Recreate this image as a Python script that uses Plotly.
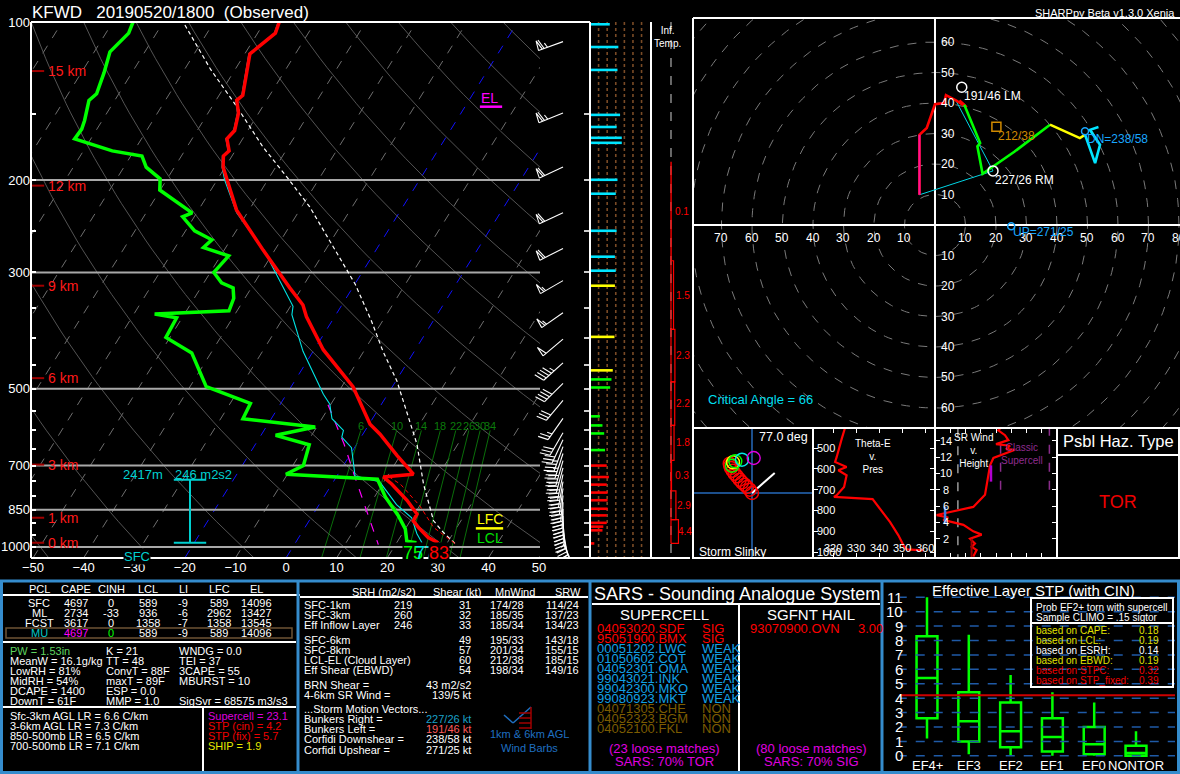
import numpy as np
import plotly.graph_objects as go

W, H = 1180, 774
FONT = "Liberation Sans, Arial, sans-serif"


def fx(x):
    return x / W


def fy(y):
    return 1.0 - y / H


# ============================ DATA ============================
station_title = "KFWD\u00a0\u00a0\u00a020190520/1800\u00a0\u00a0(Observed)"
program_name = "SHARPpy Beta v1.3.0 Xenia"

# --- sounding profiles (hPa, deg C) ---
temp_p = [982, 960, 918, 892, 866, 816, 759, 736, 727, 670, 610, 584, 495, 421, 364, 346, 321, 272,
          228, 200, 189, 180, 176, 167, 161, 149, 141, 138, 115, 105, 100]
temp_c = [28.2, 25.6, 22.4, 20.6, 20.5, 16.9, 11.8, 9.3, 14.9, 9.4, 3.4, 0.2, -7.8, -18.2, -25.6, -27.7,
          -32.4, -42.3, -52.5, -58.1, -60.4, -61.7, -61.2, -63.1, -62.6, -64.0, -65.9, -65.3, -69.0, -66.5, -67.1]
dwpt_p = [982, 975, 924, 872, 804, 743, 727, 700, 639, 613, 591, 570, 533, 504, 495, 427, 399, 366, 360,
          355, 336, 321, 314, 300, 279, 269, 260, 250, 235, 231, 209, 199, 189, 180, 176, 167, 160, 154,
          141, 137, 125, 114, 105, 100]
dwpt_c = [23.9, 21.8, 20.0, 17.0, 12.2, 8.4, -10.3, -7.9, -9.3, -17.1, -10.3, -25.6, -26.0, -33.9, -36.8,
          -43.8, -50.8, -51.1, -55.9, -41.6, -42.2, -43.6, -46.5, -49.3, -48.4, -54.4, -53.7, -58.2, -62.3,
          -60.9, -70.1, -71.4, -75.6, -77.8, -84.3, -93.2, -93.0, -93.5, -95.1, -94.4, -95.5, -96.9, -95.5, -96.0]
wetb_p = [982, 944, 880, 831, 751, 733, 647, 618, 600, 570, 535, 512, 424, 361, 348, 316, 275, 231, 200,
          189, 180, 176, 167, 161, 149, 141, 138, 115, 105, 100]
wetb_c = [25.0, 22.9, 19.9, 15.3, 9.1, 3.6, -0.6, -3.8, -4.3, -8.0, -10.2, -12.7, -22.0, -28.7, -29.5, -34.4,
          -41.6, -52.1, -58.5, -60.6, -61.9, -61.4, -63.3, -62.8, -64.2, -66.1, -65.5, -69.2, -66.7, -67.3]
vtmp_p = [985, 918, 836, 760, 736]
vtmp_c = [31.6, 25.4, 20.1, 13.6, 10.5]
parcel_p = [985, 939, 892, 759, 637, 483, 424, 372, 316, 225, 197, 173, 145, 123, 100]
parcel_c = [31.6, 28.0, 24.6, 18.1, 11.9, 0.2, -6.2, -12.1, -19.9, -38.4, -46.7, -55.0, -65.1, -74.9, -86.1]
dcape_p = [536, 637, 738, 990]
dcape_c = [-10.5, -2.5, 3.8, 16.6]

height_km = [0, 1, 3, 6, 9, 12, 15]
height_p = [982, 880, 697, 477, 318, 205, 124]
isobar_p = [200, 300, 500, 700, 850, 1000]
press_labels = [100, 200, 300, 500, 700, 850, 1000]
mixr_gkg = [6, 10, 14, 18, 22, 26, 30, 34]
el_p, lfc_p = 145, 922
eff_inflow_p = [982, 745]
eff_inflow_txt = ["2417m", "246 m2s2"]
sfc_values = ["75", "77", "83"]

# wind barbs (hPa, deg, kt)
barb_p = [984, 955, 927, 899, 873, 847, 822, 798, 774, 751, 728, 707, 685, 664, 644, 625, 606, 569,
          526, 488, 446, 402, 358, 311, 270, 231, 189, 149, 109]
barb_dir = [155, 165, 170, 175, 178, 180, 182, 185, 188, 190, 192, 195, 196, 198, 200, 205, 210, 215,
            220, 225, 228, 230, 235, 240, 243, 245, 245, 248, 250]
barb_spd = [12, 28, 33, 38, 40, 40, 41, 41, 42, 42, 41, 40, 39, 37, 35, 32, 28, 25, 28, 38, 45, 50,
            55, 57, 58, 60, 62, 66, 64]

# wind speed column (hPa, kt)
spd_p = [101, 111.6, 123.4, 150.3, 158.5, 166.2, 169.9, 199.8, 212.4, 249.9, 280.0, 297.7, 318, 398, 461,
         479.7, 497, 564, 587, 608, 654, 700, 736, 761, 788, 815, 846, 871, 900, 915, 930, 985]
spd_kt = [46, 66, 64, 70, 62, 74, 74, 64, 60, 62, 58, 60, 58, 57, 53, 50, 47, 23, 29, 33, 35, 39, 44,
          39, 41, 41, 41, 39, 39, 31, 29, 10]
spd_grid_kt = [20, 40, 60, 80, 100, 120]

# inferred temperature advection layers
inft_bot_p = [985, 887, 782, 684, 587, 485, 385, 285]
inft_top_p = [887, 782, 684, 587, 485, 385, 285, 185]
inft_val = [4.4, 2.9, 0.3, 1.8, 2.2, 2.3, 1.5, 0.1]

# hodograph (kt)
hodo_red_u = [-5.1, -5.1, -2.7, 0.0, 3.0, 3.6, 7.0, 10.4, 8.0, 9.6]
hodo_red_v = [9.9, 29.6, 31.8, 39.6, 40.0, 42.6, 40.8, 38.6, 40.8, 39.4]
hodo_pink_u = [-5.1, -5.1]
hodo_pink_v = [9.9, 29.6]
hodo_grn_u = [9.6, 14.8, 13.9, 15.6, 26.0, 37.7]
hodo_grn_v = [39.4, 26.9, 25.8, 16.8, 24.0, 32.9]
hodo_yel_u = [37.7, 47.5, 49.2]
hodo_yel_v = [32.9, 28.5, 29.6]
hodo_cyn_u = [49.2, 52.5, 54.1, 50.8, 53.6]
hodo_cyn_v = [29.6, 20.3, 26.3, 31.2, 32.1]
crit_u = [-5.1, 6.8]      # sfc wind, 500 m wind
crit_v = [9.9, 40.9]
sm_name = ["191/46 LM", "227/26 RM", "212/38", "DN=238/58", "UP=271/25"]
sm_dir = [191, 227, 212, 238, 271]
sm_spd = [46, 26, 38, 58, 25]
critical_angle = 66

# storm slinky
slinky_dx = [0, -2.3, -5, -7.3, -10, -12.3, -15, -17.3, -19.3, -21, -21.7, -22.3, -20, -19, -16.7, -10, 1.7]
slinky_dy = [0, 3.3, 6, 8.3, 10.7, 13.3, 16.7, 19.3, 22.3, 25, 27.3, 29.3, 27.3, 30.7, 31.7, 33.3, 35]
slinky_layer = [0] * 12 + [1, 2, 1, 3, 4]
slinky_vec = [0, 22.7, 0, 20]
slinky_deg = "77.0 deg"

# theta-e vs pressure
thetae_p = [992, 987, 968, 920, 856, 791, 746, 735, 727, 687, 631, 607, 591, 567, 543, 455, 404]
thetae_k = [359.3, 352, 350.6, 348.4, 344.8, 340.4, 337.2, 320.4, 321.6, 324.8, 325.9, 322.3, 325.9,
            320.9, 321.6, 323.8, 325.2]

# storm-relative wind vs height
srw_km = [-0.2, 0.6, 1.0, 1.4, 2.0, 2.5, 2.9, 3.7, 4.3, 4.6, 4.9, 5.4, 5.9, 7.4, 8.6, 9.8, 11.0, 11.9,
          12.9, 13.0, 13.4, 13.6, 14.1, 14.7, 15.3, 15.7]
srw_kt = [25.1, 27.3, 24.1, 26.2, 23, 30.6, 25.1, 18.6, 5.4, 8.7, 1.1, 14.2, 25.1, 32.8, 33.9, 35, 36.1,
          38.3, 52.5, 46.6, 49.2, 40, 48.1, 45.9, 41.5, 43.7]

# STP box-and-whisker climatology
stp_cat = ["EF4+", "EF3", "EF2", "EF1", "EF0", "NONTOR"]
stp_lo = [1.2, 0.1, 0.0, 0.0, 0.0, 0.0]
stp_q1 = [2.6, 1.0, 0.6, 0.3, 0.1, 0.0]
stp_med = [5.4, 2.4, 1.7, 1.3, 0.8, 0.2]
stp_q3 = [8.3, 4.4, 3.7, 2.6, 2.0, 0.7]
stp_hi = [11.0, 8.4, 5.6, 4.4, 3.7, 1.7]
stp_value = 4.2
stp_prob_lbl = ["based on CAPE:", "based on LCL:", "based on ESRH:", "based on EBWD:", "based on STPC:",
                "based on STP_fixed:"]
stp_prob_val = ["0.18", "0.19", "0.14", "0.19", "0.32", "0.39"]
stp_prob_col = ["#e0e000", "#e0e000", "white", "#e0e000", "#ee0000", "#ee0000"]

# parcel table
pcl_hdr = ["PCL", "CAPE", "CINH", "LCL", "LI", "LFC", "EL"]
pcl_rows = [["SFC", "4697", "0", "589", "-9", "589", "14096"],
            ["ML", "2734", "-33", "936", "-6", "2962", "13427"],
            ["FCST", "3617", "0", "1358", "-7", "1358", "13545"],
            ["MU", "4697", "0", "589", "-9", "589", "14096"]]
idx_col1 = ["PW = 1.53in", "MeanW = 16.1g/kg", "LowRH = 81%", "MidRH = 54%", "DCAPE = 1400", "DownT = 61F"]
idx_col2 = ["K = 21", "TT = 48", "ConvT = 88F", "maxT = 89F", "ESP = 0.0", "MMP = 1.0"]
idx_col3 = ["WNDG = 0.0", "TEI = 37", "3CAPE = 55", "MBURST = 10", "", "SigSvr = 68575 m3/s3"]
lapse_txt = ["Sfc-3km AGL LR = 6.6 C/km", "3-6km AGL LR = 7.3 C/km", "850-500mb LR = 6.5 C/km",
             "700-500mb LR = 7.1 C/km"]
comp_txt = ["Supercell = 23.1", "STP (cin) = 4.2", "STP (fix) = 5.7", "SHIP = 1.9"]
comp_col = ["#dd00dd", "#ee0000", "#ee0000", "#e8e800"]

# kinematic table
kin_hdr = ["SRH (m2/s2)", "Shear (kt)", "MnWind", "SRW"]
kin_rows = [["SFC-1km", "219", "31", "174/28", "114/24"],
            ["SFC-3km", "260", "32", "185/35", "137/23"],
            ["Eff Inflow Layer", "246", "33", "185/34", "134/23"],
            ["SFC-6km", "", "49", "195/33", "143/18"],
            ["SFC-8km", "", "57", "201/34", "155/15"],
            ["LCL-EL (Cloud Layer)", "", "60", "212/38", "185/15"],
            ["Eff Shear (EBWD)", "", "54", "198/34", "149/16"]]
misc_lbl = ["BRN Shear =", "4-6km SR Wind =", "...Storm Motion Vectors...", "Bunkers Right =",
            "Bunkers Left =", "Corfidi Downshear =", "Corfidi Upshear ="]
misc_val = ["43 m2/s2", "139/5 kt", "", "227/26 kt", "191/46 kt", "238/58 kt", "271/25 kt"]
misc_col = ["white", "white", "white", "#1aa0c8", "#ff5a5a", "white", "white"]

# SARS
sars_sup = ["04053020.SDF", "95051900.BMX", "00051202.LWC", "01050602.COT", "04052301.OMA", "99043021.INK",
            "99042300.MKO", "99080923.MKT", "04071305.CHE", "04052323.BGM", "04052100.FKL"]
sars_cls = ["SIG", "SIG", "WEAK", "WEAK", "WEAK", "WEAK", "WEAK", "WEAK", "NON", "NON", "NON"]
sars_hail = ["93070900.OVN", "3.00"]
sars_foot = [["(23 loose matches)", "SARS: 70% TOR"], ["(80 loose matches)", "SARS: 70% SIG"]]

# ============================ HELPERS ============================
fig = go.Figure()
ann = []
shp = []


def add(x, y, xa="x", ya="y", color="white", width=1.0, dash=None, mode="lines", **kw):
    fig.add_trace(go.Scatter(x=x, y=y, xaxis=xa, yaxis=ya, mode=mode,
                             line=dict(color=color, width=width, dash=dash),
                             hoverinfo="skip", showlegend=False, **kw))


def txt(x, y, s, color="white", size=11, xa="left", ya="middle", bg=None):
    d = dict(x=fx(x), y=fy(y), xref="paper", yref="paper", text=s, showarrow=False,
             font=dict(color=color, size=size, family=FONT), xanchor=xa, yanchor=ya, borderpad=0)
    if bg:
        d["bgcolor"] = bg
    ann.append(d)


def dtxt(x, y, xr, yr, s, color="white", size=11, xa="center", ya="middle", bg=None, **kw):
    d = dict(x=x, y=y, xref=xr, yref=yr, text=s, showarrow=False,
             font=dict(color=color, size=size, family=FONT), xanchor=xa, yanchor=ya, borderpad=0, **kw)
    if bg:
        d["bgcolor"] = bg
    ann.append(d)


def hline(x0, y0, x1, y1, color="white", width=2, dash=None):
    shp.append(dict(type="line", xref="paper", yref="paper", x0=fx(x0), y0=fy(y0), x1=fx(x1), y1=fy(y1),
                    line=dict(color=color, width=width, dash=dash), layer="above"))


def rect(x0, y0, x1, y1, color="white", width=2):
    shp.append(dict(type="rect", xref="paper", yref="paper", x0=fx(x0), y0=fy(y0), x1=fx(x1), y1=fy(y1),
                    line=dict(color=color, width=width), fillcolor="rgba(0,0,0,0)", layer="above"))


# ============================ SKEW-T ============================
PBOT, PTOP = 1050.0, 100.0
SKEW = 27.97
K_LN = (558 - 22) / np.log(PBOT / PTOP)
XMIN, XMAX = -50.4, 50.2


def skx(t, p):
    return list(np.asarray(t, float) + SKEW * np.log(PBOT / np.asarray(p, float)))


def lg(p):
    return float(np.log10(p))


# isotherms
iso_x, iso_y, blu_x, blu_y = [], [], [], []
for t in range(-160, 60, 10):
    xs = skx([t, t], [PBOT, PTOP])
    if t in (0, -20):
        blu_x += xs + [None]; blu_y += [PBOT, PTOP, None]
    else:
        iso_x += xs + [None]; iso_y += [PBOT, PTOP, None]
add(iso_x, iso_y, color="#6e6e6e", width=1, dash="dash")
add(blu_x, blu_y, color="#1010ff", width=1, dash="dash")

# dry adiabats
pp = np.geomspace(PBOT, PTOP, 60)
da_x, da_y = [], []
for t1000 in range(-50, 250, 20):
    th = t1000 + 273.15
    tt = th * (pp / 1000.0) ** 0.2857 - 273.15
    da_x += skx(tt, pp) + [None]; da_y += list(pp) + [None]
add(da_x, da_y, color="#5c5c5c", width=0.9)

# mixing ratio lines
pm = np.array([PBOT, 600.0])
mr_x, mr_y = [], []
for w in mixr_gkg:
    e = w * pm / (622.0 + w)
    l = np.log(e / 6.112)
    td = 243.5 * l / (17.67 - l)
    mr_x += skx(td, pm) + [None]; mr_y += list(pm) + [None]
    dtxt(skx([td[1]], [600])[0], lg(588), "x", "y", str(w), color="#0b7a0b", size=11)
add(mr_x, mr_y, color="#0b7a0b", width=0.9)

# isobars
ib_x, ib_y = [], []
for p in isobar_p:
    ib_x += [XMIN, XMAX, None]; ib_y += [p, p, None]
add(ib_x, ib_y, color="#a8a8a8", width=2)

# profiles
add(skx(dcape_c, dcape_p), dcape_p, color="#ff00ff", width=1.2, dash="dash")
add(skx(parcel_c, parcel_p), parcel_p, color="white", width=1.2, dash="4px,3px")
add(skx(vtmp_c, vtmp_p), vtmp_p, color="#ff0000", width=1, dash="4px,3px")
add(skx(wetb_c, wetb_p), wetb_p, color="#00e5e5", width=1.1)
add(skx(dwpt_c, dwpt_p), dwpt_p, color="#00ff00", width=3.5)
add(skx(temp_c, temp_p), temp_p, color="#ff0000", width=3.5)

# effective inflow layer bracket
XB = (190 - 286) / 5.06
add([XB, XB], eff_inflow_p, color="#00d0d0", width=2)
add([XB - 3.2, XB + 3.2, None, XB - 3.2, XB + 3.2], [eff_inflow_p[0]] * 2 + [None] + [eff_inflow_p[1]] * 2,
    color="#00d0d0", width=2)
dtxt(XB - 9.2, lg(eff_inflow_p[1]), "x", "y", eff_inflow_txt[0], color="#00d0d0", size=13, yshift=5)
dtxt(XB + 2.7, lg(eff_inflow_p[1]), "x", "y", eff_inflow_txt[1], color="#00d0d0", size=13, yshift=5)
txt(137, 556, "SFC", color="#00d0d0", size=13, xa="center", bg="black")

# height markers
hk_x, hk_y = [], []
for hkm, p in zip(height_km, height_p):
    hk_x += [XMIN, XMIN + 2.6, None]; hk_y += [p, p, None]
    dtxt(fx(47), lg(p), "paper", "y", f"{hkm} km", color="#ff1a1a", size=14, xa="left")
add(hk_x, hk_y, color="#a00000", width=2)

# EL / LFC / LCL
XL = (490 - 286) / 5.06
add([XL - 2.0, XL + 2.4], [el_p, el_p], color="#ff00ff", width=2.5)
dtxt(XL, lg(el_p), "x", "y", "EL", color="#ff00ff", size=14, ya="bottom")
add([XL - 2.8, XL + 2.6], [lfc_p, lfc_p], color="#ffff00", width=2.5)
dtxt(XL, lg(lfc_p), "x", "y", "LFC", color="#ffff00", size=14, ya="bottom")
dtxt(XL, lg(lfc_p), "x", "y", "LCL", color="#00e000", size=14, ya="top", yshift=-1)

# surface values
txt(413, 553, sfc_values[0], color="#00ff00", size=18, xa="center", bg="black")
txt(425, 553, sfc_values[1], color="#00e5e5", size=18, xa="center")
txt(439, 553, sfc_values[2], color="#ff0000", size=18, xa="center", bg="black")

# ============================ WIND BARBS ============================
bx, by = [], []
for p, d, s in zip(barb_p, barb_dir, barb_spd):
    r = np.deg2rad(d)
    ux, uy = np.sin(r), np.cos(r)
    nx, ny = uy, -ux
    L = 26.0
    x0 = 563.0

    def P(dx, dy):
        return x0 + dx, p * np.exp(-dy / K_LN)

    def seg(pts):
        for a, b in pts:
            X, Y = P(a, b)
            bx.append(X); by.append(Y)
        bx.append(None); by.append(None)

    seg([(0, 0), (L * ux, L * uy)])
    n5 = int(round(s / 5.0))
    flags, rem = divmod(n5, 10)
    full, half = divmod(rem, 2)
    pos = L
    fl = 10.0
    for _ in range(flags):
        a = (pos * ux, pos * uy)
        b = ((pos - 4) * ux, (pos - 4) * uy)
        c = ((pos - 1) * ux + fl * nx, (pos - 1) * uy + fl * ny)
        seg([a, c, b])
        pos -= 6
    for _ in range(full):
        a = (pos * ux, pos * uy)
        seg([a, (a[0] + fl * nx + 3 * ux, a[1] + fl * ny + 3 * uy)])
        pos -= 3.5
    if half:
        if flags == 0 and full == 0:
            pos -= 3.5
        a = (pos * ux, pos * uy)
        seg([a, (a[0] + 0.5 * fl * nx + 1.5 * ux, a[1] + 0.5 * fl * ny + 1.5 * uy)])
add(bx, by, xa="x5", ya="y5", color="white", width=1.1)

# ============================ WIND SPEED COLUMN ============================
for k in spd_grid_kt:
    add([k, k], [PTOP, PBOT], xa="x2", ya="y2", color="#7a4b26", width=1.6, dash="dot")
cols = {"r": "#ff0000", "g": "#00ff00", "y": "#ffff00", "c": "#00e5ff"}
segs = {k: ([], []) for k in cols}
for p, s in zip(spd_p, spd_kt):
    if p >= height_p[2]:
        k = "r"
    elif p >= height_p[3]:
        k = "g"
    elif p >= height_p[4] - 3:
        k = "y"
    else:
        k = "c"
    segs[k][0].extend([0, s, None]); segs[k][1].extend([p, p, None])
for k, (xs, ys) in segs.items():
    add(xs, ys, xa="x2", ya="y2", color=cols[k], width=2.6)

# ============================ INFERRED TEMP ADVECTION ============================
add([0, 0], [PTOP, PBOT], xa="x3", ya="y3", color="#8a8a8a", width=1.5, dash="dash")
it_x, it_y = [], []
for b, t, v in zip(inft_bot_p, inft_top_p, inft_val):
    it_x += [0, v, v, 0, 0, None]; it_y += [b, b, t, t, b, None]
    dtxt(v * 0.45 + 1.6, lg(np.sqrt(b * t)), "x3", "y3", f"{v}", color="#ff0000", size=10, xa="left")
add(it_x, it_y, xa="x3", ya="y3", color="#ff0000", width=1.2)
txt(653, 24, "Inf.<br>Temp.", size=10, ya="top")

# ============================ HODOGRAPH ============================
th = np.linspace(0, 2 * np.pi, 241)
rg_x, rg_y = [], []
for r in range(10, 130, 10):
    rg_x += list(r * np.cos(th)) + [None]; rg_y += list(r * np.sin(th)) + [None]
add(rg_x, rg_y, xa="x4", ya="y4", color="#7a7a7a", width=1, dash="dash")
add([-90, 90, None, 0, 0], [0, 0, None, -80, 80], xa="x4", ya="y4", color="white", width=2)
for k in range(10, 90, 10):
    if k < 80:
        dtxt(-k, -4.3, "x4", "y4", str(k), size=12)
    dtxt(k, -4.3, "x4", "y4", str(k), size=12)
    if k <= 60:
        dtxt(4.2, k, "x4", "y4", str(k), size=12)
        dtxt(4.2, -k, "x4", "y4", str(k), size=12)

sm_u = [-s * np.sin(np.deg2rad(d)) for d, s in zip(sm_dir, sm_spd)]
sm_v = [-s * np.cos(np.deg2rad(d)) for d, s in zip(sm_dir, sm_spd)]
add([crit_u[0], sm_u[1], crit_u[1]], [crit_v[0], sm_v[1], crit_v[1]], xa="x4", ya="y4", color="#00d5e5", width=1)
add(hodo_red_u, hodo_red_v, xa="x4", ya="y4", color="#ff0000", width=2.6)
add(hodo_pink_u, hodo_pink_v, xa="x4", ya="y4", color="#ff1493", width=2.2)
add(hodo_grn_u, hodo_grn_v, xa="x4", ya="y4", color="#00ff00", width=2.6)
add(hodo_yel_u, hodo_yel_v, xa="x4", ya="y4", color="#ffff00", width=2.6)
add(hodo_cyn_u, hodo_cyn_v, xa="x4", ya="y4", color="#00e5ff", width=2.6)

sm_sym = ["circle-open", "circle-open", "square-open", "circle-open", "circle-open"]
sm_col = ["white", "white", "#d08a00", "#19a7ff", "#19a7ff"]
sm_sz = [10, 10, 9, 7, 7]
sm_lbl_col = ["white", "white", "#d08a00", "#19a7ff", "#19a7ff"]
sm_dy = [-9, -9, -9, -8, -6]
for i in range(5):
    fig.add_trace(go.Scatter(x=[sm_u[i]], y=[sm_v[i]], xaxis="x4", yaxis="y4", mode="markers",
                             marker=dict(symbol=sm_sym[i], size=sm_sz[i], color=sm_col[i],
                                         line=dict(width=1.5, color=sm_col[i])),
                             hoverinfo="skip", showlegend=False))
    dtxt(sm_u[i], sm_v[i], "x4", "y4", sm_name[i], color=sm_lbl_col[i], size=12, xa="left",
         xshift=1, yshift=sm_dy[i])
txt(707, 400, f"Critical Angle = {critical_angle}", color="#00dfee", size=13)

# ============================ STORM SLINKY ============================
add([-80, 80, None, 0, 0], [0, 0, None, -80, 80], xa="x6", ya="y6", color="#1c4f8c", width=2)
add([slinky_vec[0], slinky_vec[1]], [slinky_vec[2], slinky_vec[3]], xa="x6", ya="y6", color="white", width=2)
lay_col = ["#ff0000", "#00ff00", "#ffff00", "#00e5e5", "#e000e0"]
fig.add_trace(go.Scatter(x=slinky_dx, y=slinky_dy, xaxis="x6", yaxis="y6", mode="markers",
                         marker=dict(symbol="circle-open", size=13, color=[lay_col[k] for k in slinky_layer],
                                     line=dict(width=1.4)),
                         hoverinfo="skip", showlegend=False))
txt(809, 437, slinky_deg, size=12.5, xa="right")
txt(698, 552, "Storm Slinky", size=12)

# ============================ THETA-E ============================
add(thetae_k, thetae_p, xa="x7", ya="y7", color="#ff0000", width=2.2)
for p in [500, 600, 700, 800, 900, 1000]:
    dtxt(fx(816), p, "paper", "y7", str(p), size=11, xa="left")
for t in [320, 330, 340, 350, 360]:
    dtxt(t, fy(548), "x7", "paper", str(t), size=11)
txt(873, 456, "Theta-E<br>v.<br>Pres", size=10, xa="center")

# ============================ SR WIND ============================
add([15, 15], [-1, 17], xa="x8", ya="y8", color="#9a9a9a", width=1.5, dash="dash")
add([43, 43, None, 75, 75], [8, 14.4, None, 8, 16], xa="x8", ya="y8", color="#8a2c8a", width=1.5, dash="dash")
add(srw_kt, srw_km, xa="x8", ya="y8", color="#ff0000", width=2.2)
add([24, 24], [-0.5, 2], xa="x8", ya="y8", color="#a00000", width=2)
add([6.6, 6.6], [3.8, 5.9], xa="x8", ya="y8", color="#3a7ae0", width=2.5)
add([36.7, 36.7], [9, 11], xa="x8", ya="y8", color="#b000d0", width=2.5)
for k in range(2, 16, 2):
    dtxt(fx(946), k, "paper", "y8", str(k), size=11)
txt(973, 450, "SR Wind<br>v.<br>Height", size=10, xa="center")
txt(1022, 454, "Classic<br>Supercell", color="#8e2c8e", size=10, xa="center")

# ============================ HAZARD TYPE ============================
txt(1118, 441, "Psbl Haz. Type", size=16.5, xa="center")
txt(1118, 502, "TOR", color="#ee0000", size=18, xa="center")

# ============================ STP BOXES ============================
gx, gy = [], []
for k in range(0, 12):
    gx += [-0.7, 6.0, None]; gy += [k, k, None]
add(gx, gy, xa="x9", ya="y9", color="#1f5aa6", width=1.5, dash="dash")
add([-0.7, 6.0], [stp_value, stp_value], xa="x9", ya="y9", color="#cc0000", width=2.2)
fig.add_trace(go.Box(x=list(range(6)), q1=stp_q1, median=stp_med, q3=stp_q3, lowerfence=stp_lo,
                     upperfence=stp_hi, xaxis="x9", yaxis="y9", line=dict(color="#00ff00", width=2.5),
                     fillcolor="rgba(0,0,0,0)", whiskerwidth=0, width=0.5, boxpoints=False,
                     hoverinfo="skip", showlegend=False))
for k in range(0, 12):
    dtxt(fx(904), k, "paper", "y9", str(k), size=15, xa="right")
for i, c in enumerate(stp_cat):
    dtxt(i, fy(765), "x9", "paper", c, size=13)
txt(1033, 590, "Effective Layer STP (with CIN)", size=15, xa="center")
rect(1031, 598, 1173, 687, "white", 2)
hline(1031, 623, 1173, 623, "white", 2)
txt(1035, 607, "Prob EF2+ torn with supercell", size=10)
txt(1035, 617, "Sample CLIMO = .15 sigtor", size=10)
for i in range(6):
    txt(1035, 630 + 10 * i, stp_prob_lbl[i], color=stp_prob_col[i], size=10)
    txt(1138, 630 + 10 * i, stp_prob_val[i], color=stp_prob_col[i], size=10)

# ============================ TABLE 1 ============================
col_x = [39, 76, 111, 148, 183, 219, 256]
for c, h in zip(col_x, pcl_hdr):
    txt(c, 589, h, size=11, xa="center")
for r, row in enumerate(pcl_rows):
    for j, (c, v) in enumerate(zip(col_x, row)):
        color = "white"
        if r == 3:
            color = ["#00c8c8", "#ff00ff", "#00ff00", "white", "white", "white", "white"][j]
        txt(c, 603 + 10 * r, v, color=color, size=11, xa="center")
rect(6, 628, 292, 638, "#6e5334", 1.5)
for i in range(6):
    txt(9, 651 + 10 * i, idx_col1[i], color="#5fd35f" if i == 0 else "white", size=11)
    txt(105, 651 + 10 * i, idx_col2[i], size=11)
    txt(178, 651 + 10 * i, idx_col3[i], size=11)
for i in range(4):
    txt(9, 716 + 10 * i, lapse_txt[i], size=11)
    txt(207, 716 + 10 * i, comp_txt[i], color=comp_col[i], size=11)
hline(3, 595, 300, 595)
hline(3, 642, 296, 642)
hline(3, 707, 296, 707)
hline(203, 707, 203, 772)

# ============================ TABLE 2 ============================
for cx, h in zip([384, 457, 515, 568], kin_hdr):
    txt(cx, 592, h, size=11, xa="center")
hline(300, 597, 588, 597)
ry = [605, 615, 625, 640, 650, 660, 670]
for y, row in zip(ry, kin_rows):
    txt(303, y, row[0], size=11)
    for xr, v in zip([413, 472, 525, 580], row[1:]):
        txt(xr, y, v, size=11, xa="right")
my = [685, 695, 709, 719, 729, 739, 750]
for y, l, v, c in zip(my, misc_lbl, misc_val, misc_col):
    txt(303, y, l, size=11)
    if v:
        txt(472, y, v, color=c, size=11, xa="right")
# 1km & 6km wind barb legend icon
hline(504, 715, 513, 723, "#1f6fc0", 1.5)
hline(513, 723, 531, 707, "#1f6fc0", 1.5)
hline(531, 707, 531, 729, "#a00000", 1.5)
for yy in [713, 718, 723, 728]:
    hline(519, yy, 531, yy, "#a00000", 1.5)
txt(529, 734, "1km & 6km AGL", color="#1f6fc0", size=11, xa="center")
txt(529, 748, "Wind Barbs", color="#1f6fc0", size=11, xa="center")

# ============================ SARS ============================
txt(593, 594, "SARS - Sounding Analogue System", size=18)
hline(592, 604, 880, 604)
hline(739, 604, 739, 772)
txt(664, 614, "SUPERCELL", size=15, xa="center")
txt(811, 614, "SGFNT HAIL", size=15, xa="center")
cls_col = {"SIG": "#ff0000", "WEAK": "#12a0e6", "NON": "#7c5c00"}
for i, (n, c) in enumerate(zip(sars_sup, sars_cls)):
    txt(596, 628 + 10 * i, n, color=cls_col[c], size=13)
    txt(701, 628 + 10 * i, c, color=cls_col[c], size=13)
txt(749, 628, sars_hail[0], color="#ff0000", size=13)
txt(857, 628, sars_hail[1], color="#ff0000", size=13)
for cx, (a, b) in zip([664, 811], sars_foot):
    txt(cx, 748, a, color="#e000e0", size=13, xa="center")
    txt(cx, 761, b, color="#e000e0", size=13, xa="center")

# ============================ FRAMES ============================
BF = "#358ccd"
rect(1.5, 581, 1178.5, 772.5, BF, 3)
for xx in [298, 590, 882]:
    hline(xx, 581, xx, 772.5, BF, 3)
hline(31, 22, 590, 22)
hline(31, 22, 31, 558)
hline(31, 558, 690, 558)
hline(590, 22, 590, 558)
hline(651, 22, 651, 558)
hline(693, 18, 1180, 18)
hline(693, 18, 693, 558)
rect(693, 428, 1179, 558, "white", 2)
for xx in [813, 935, 1057]:
    hline(xx, 428, xx, 558)
hline(1057, 455, 1180, 455)

txt(31, 12, station_title, size=17)
txt(1176, 13, program_name, size=11, xa="right")

# ============================ LAYOUT ============================
ydom_sk = [fy(558), fy(22)]
ydom_sm = [fy(558), fy(428)]
ax_off = dict(showgrid=False, zeroline=False, showticklabels=False, ticks="", showline=False, fixedrange=True,
              automargin=False)
yr_log = [np.log10(PBOT), np.log10(PTOP)]
p_ticks = list(range(100, 1051, 50))
tk = dict(showgrid=False, zeroline=False, fixedrange=True, automargin=False, showline=False)

layout = dict(
    template="none",
    width=W, height=H, margin=dict(l=0, r=0, t=0, b=0, pad=0, autoexpand=False),
    paper_bgcolor="black", plot_bgcolor="rgba(0,0,0,0)",
    font=dict(family=FONT, color="white"), showlegend=False,
    xaxis=dict(domain=[fx(31), fx(540)], range=[XMIN, XMAX], anchor="y",
               tickvals=list(range(-50, 51, 10)), tickfont=dict(size=13, color="white"), ticks="", **tk),
    yaxis=dict(domain=ydom_sk, type="log", range=yr_log, anchor="x",
               tickvals=p_ticks, ticktext=[str(p) if p in press_labels else "" for p in p_ticks],
               ticks="inside", ticklen=5, tickcolor="white", tickwidth=1.5,
               tickfont=dict(size=13, color="white"), **tk),
    xaxis2=dict(domain=[fx(590), fx(651)], range=[0, 142], anchor="y2", **ax_off),
    yaxis2=dict(domain=ydom_sk, type="log", range=yr_log, anchor="x2",
                showticklabels=False, tickvals=p_ticks[1:-1], ticks="outside", ticklen=5, tickcolor="#cccccc",
                tickwidth=1.5, **tk),
    xaxis3=dict(domain=[fx(651), fx(690)], range=[-11.76, 11.18], anchor="y3", **ax_off),
    yaxis3=dict(domain=ydom_sk, type="log", range=yr_log, anchor="x3", **ax_off),
    xaxis4=dict(domain=[fx(693), 1.0], range=[-79.34, 80.33], anchor="y4", **ax_off),
    yaxis4=dict(domain=[fy(428), fy(18)], range=[-66.56, 67.87], anchor="x4", **ax_off),
    xaxis5=dict(domain=[fx(530), fx(590)], range=[530, 590], anchor="y5", **ax_off),
    yaxis5=dict(domain=ydom_sk, type="log", range=yr_log, anchor="x5", **ax_off),
    xaxis6=dict(domain=[fx(693), fx(813)], range=[-59, 61], anchor="y6", **ax_off),
    yaxis6=dict(domain=ydom_sm, range=[-65, 65], anchor="x6", **ax_off),
    xaxis7=dict(domain=[fx(813), fx(935)], range=[311.3, 364.3], anchor="y7",
                showticklabels=False, tickvals=[320, 330, 340, 350, 360], ticks="inside", ticklen=5,
                tickcolor="white", mirror="allticks", **tk),
    yaxis7=dict(domain=ydom_sm, range=[1028.8, 403.8], anchor="x7",
                showticklabels=False, tickvals=[500, 600, 700, 800, 900, 1000], ticks="inside", ticklen=5,
                tickcolor="white", mirror="allticks", **tk),
    xaxis8=dict(domain=[fx(935), fx(1057)], range=[0, 80], anchor="y8",
                showticklabels=False, tickvals=[10, 20, 30, 40, 50, 60, 70], ticks="inside", ticklen=5,
                tickcolor="white", mirror="allticks", **tk),
    yaxis8=dict(domain=ydom_sm, range=[-0.37, 15.58], anchor="x8",
                showticklabels=False, tickvals=list(range(2, 16, 2)), ticks="inside", ticklen=5,
                tickcolor="white", mirror="allticks", **tk),
    xaxis9=dict(domain=[fx(900), fx(1175)], range=[-0.646, 5.933], anchor="y9", **ax_off),
    yaxis9=dict(domain=[fy(763), fy(590)], range=[-0.5, 11.5], anchor="x9", **ax_off),
    annotations=ann, shapes=shp,
)
fig.update_layout(**layout)
fig.write_html("out.html", config={"displayModeBar": False},
               post_script="document.body.style.margin='0';document.body.style.overflow='hidden';")
